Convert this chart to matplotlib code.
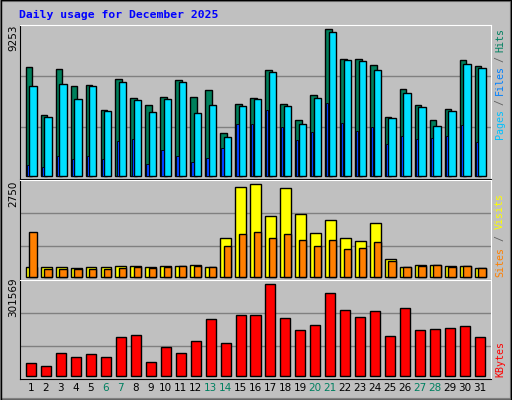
import matplotlib
matplotlib.use("Agg")
import matplotlib.pyplot as plt
from matplotlib.patches import Rectangle

days = list(range(1, 32))
weekend = [6, 7, 13, 14, 20, 21, 27, 28]
hits = [6856,3827,6730,5657,5720,4143,6099,4900,4458,4963,6036,4963,5405,2692,4521,4900,6667,4521,3512,5089,9253,7361,7361,6982,3701,5468,4458,3512,4206,7297,6919]
files = [5657,3701,5783,4837,5657,4080,5909,4774,4017,4837,5909,3954,4458,2439,4395,4837,6540,4395,3260,4900,9064,7297,7234,6667,3638,5215,4332,3133,4080,7045,6793]
pages = [694,547,1262,1073,1262,1073,2208,2334,757,1640,1262,883,1136,1767,3281,3281,4164,3091,2271,2776,4606,3344,2839,3091,2019,2524,2334,2397,2524,3218,2145]
visits = [277,277,277,247,277,277,307,307,277,307,307,336,277,1137,2651,2740,1790,2621,1850,1286,1671,1137,1048,1582,514,277,336,336,307,307,247]
sites = [1315,218,218,218,218,218,247,277,247,277,307,307,277,900,1256,1315,1137,1256,1078,900,1078,811,840,1019,455,277,307,336,277,307,247]
kbytes = [42767,31801,74569,61410,71279,61410,127206,133785,44961,94308,74569,114046,186422,107467,199581,199581,301569,189712,150234,166683,271961,216030,193002,212740,130495,222610,150234,153524,156814,163393,127206]

W, H = 512, 400
fig = plt.figure(figsize=(5.12, 4.0), dpi=100, facecolor="#C0C0C0")
fig.patches.append(Rectangle((0, 0), 1, 1, transform=fig.transFigure, fill=False,
                             edgecolor="#808080", linewidth=3))
fig.patches.append(Rectangle((0.001, 0.001), 0.998, 0.998, transform=fig.transFigure, fill=False,
                             edgecolor="black", linewidth=1))

def ax_px(x0, y0, x1, y1):
    a = fig.add_axes([x0 / W, 1 - y1 / H, (x1 - x0) / W, (y1 - y0) / H])
    a.set_facecolor("#C0C0C0")
    a.set_xlim(0, 31.47)
    a.set_xticks([]); a.set_yticks([])
    for s in ["left", "bottom"]:
        a.spines[s].set_color("black")
    for s in ["top", "right"]:
        a.spines[s].set_color("white")
    return a

def bars(a, vals, off, w, color, lw=1.0, z=3):
    a.bar([d - 1 + off for d in days], vals, width=w, align="edge", color=color,
          edgecolor="black", linewidth=lw, zorder=z)

a1 = ax_px(20, 25, 491, 179)
a1.set_ylim(-190, 9524)
for g in (3070, 6288):
    a1.axhline(g, color="#808080", lw=1, zorder=1)
bars(a1, hits, 0.38, 0.44, "#00805C")
bars(a1, files, 0.62, 0.49, "#00E0FF")
bars(a1, pages, 0.45, 0.15, "#0040FF", lw=0.6, z=4)

a2 = ax_px(20, 180, 491, 280)
a2.set_ylim(-98, 2869)
for g in (900, 1879):
    a2.axhline(g, color="#808080", lw=1, zorder=1)
bars(a2, visits, 0.38, 0.73, "#FFFF00")
bars(a2, sites, 0.62, 0.49, "#FF8000")

a3 = ax_px(20, 280, 491, 379)
a3.set_ylim(-9867, 315712)
for g in (99791, 206161):
    a3.axhline(g, color="#808080", lw=1, zorder=1)
bars(a3, kbytes, 0.4, 0.67, "#FF0000")

for d in days:
    a3.text(d - 1 + 0.73, -0.09, str(d), transform=a3.get_xaxis_transform(),
            ha="center", va="center", fontsize=7.5, family="DejaVu Sans",
            color="#008060" if d in weekend else "black")

fig.text(19 / W, 1 - 15 / H, "Daily usage for December 2025", color="#0000FF",
         family="DejaVu Sans Mono", fontweight="bold", fontsize=8.2, va="center", ha="left")

for txt, ymid in (("9253", 38), ("2750", 194), ("301569", 297)):
    fig.text(13 / W, 1 - ymid / H, txt, rotation=90, ha="center", va="center",
             fontsize=7.5, family="DejaVu Sans")

def stacked(pieces, ybottom, adv, x=500):
    y = ybottom
    for t, c in pieces:
        n = len(t)
        s = t.strip()
        fig.text(x / W, 1 - (y - n * adv / 2) / H, s, rotation=90, color=c,
                 ha="center", va="center", family="DejaVu Sans Mono", fontsize=7.2)
        y -= n * adv

stacked([("Pages", "#00C0FF"), (" / ", "#606060"), ("Files", "#0080FF"),
         (" / ", "#606060"), ("Hits", "#008060")], 137, 5.4)
stacked([("Sites", "#FF8000"), (" / ", "#606060"), ("Visits", "#FFFF00")], 277, 6.0)
stacked([("KBytes", "#FF0000")], 377, 6.0)

fig.savefig("out.png", dpi=100, facecolor=fig.get_facecolor())
